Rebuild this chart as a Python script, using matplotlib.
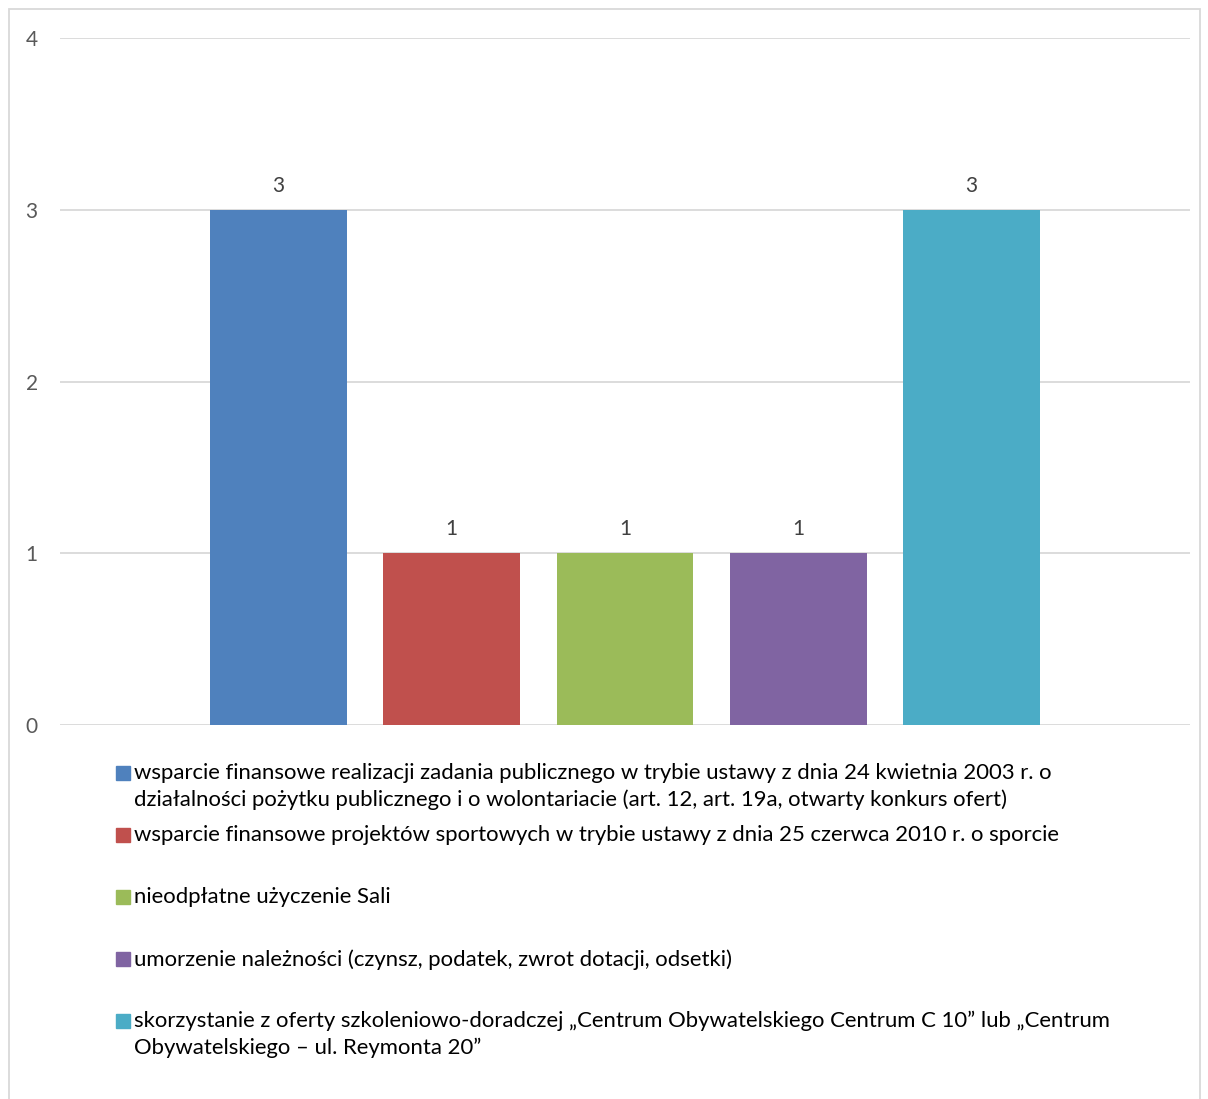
import matplotlib.pyplot as plt
from matplotlib.patches import Rectangle

plt.rcParams['font.family'] = ['Lato', 'DejaVu Sans']

categories = [
    "wsparcie finansowe realizacji zadania publicznego w trybie ustawy z dnia 24 kwietnia 2003 r. o\n"
    "działalności pożytku publicznego i o wolontariacie (art. 12, art. 19a, otwarty konkurs ofert)",
    "wsparcie finansowe projektów sportowych w trybie ustawy z dnia 25 czerwca 2010 r. o sporcie",
    "nieodpłatne użyczenie Sali",
    "umorzenie należności (czynsz, podatek, zwrot dotacji, odsetki)",
    "skorzystanie z oferty szkoleniowo-doradczej „Centrum Obywatelskiego Centrum C 10” lub „Centrum\n"
    "Obywatelskiego – ul. Reymonta 20”",
]
values = [3, 1, 1, 1, 3]
colors = ["#4F81BD", "#C0504D", "#9BBB59", "#8064A2", "#4BACC6"]
yticks = [0, 1, 2, 3, 4]

W, H = 1208, 1099
fig = plt.figure(figsize=(W / 100, H / 100), dpi=100)

# outer chart border
fig.patches.append(Rectangle((9 / W, -0.01), 1191 / W, (H - 9) / H + 0.01,
                             transform=fig.transFigure, fill=False,
                             edgecolor="#D9D9D9", linewidth=1.3))

ax = fig.add_axes([60 / W, (H - 725) / H, 1130 / W, 687 / H])
x = list(range(len(values)))
ax.bar(x, values, width=0.79, color=colors, zorder=2)
for xi, v in zip(x, values):
    ax.annotate(str(v), (xi, v), xytext=(0, 10), textcoords="offset points",
                ha="center", va="bottom", fontsize=15, color="#404040")

ax.set_xlim(-1.26, 5.26)
ax.set_ylim(0, 4)
ax.set_yticks(yticks)
ax.set_xticks([])
ax.yaxis.grid(True, color="#D9D9D9", linewidth=1.3, zorder=0)
for s in ax.spines.values():
    s.set_visible(False)
ax.tick_params(axis="y", length=0, pad=16, labelsize=15, labelcolor="#595959")

# legend, drawn by hand to keep Excel's layout
slot_tops = [773, 835, 897, 959, 1021]
for top, label, c in zip(slot_tops, categories, colors):
    fig.patches.append(Rectangle((116 / W, (H - top - 7) / H), 14 / W, 14 / H,
                                 transform=fig.transFigure, color=c))
    fig.text(134 / W, (H - top + 10) / H, label, ha="left", va="top",
             fontsize=15.9, color="#000000", linespacing=1.4)

fig.savefig("out.png", dpi=100)
